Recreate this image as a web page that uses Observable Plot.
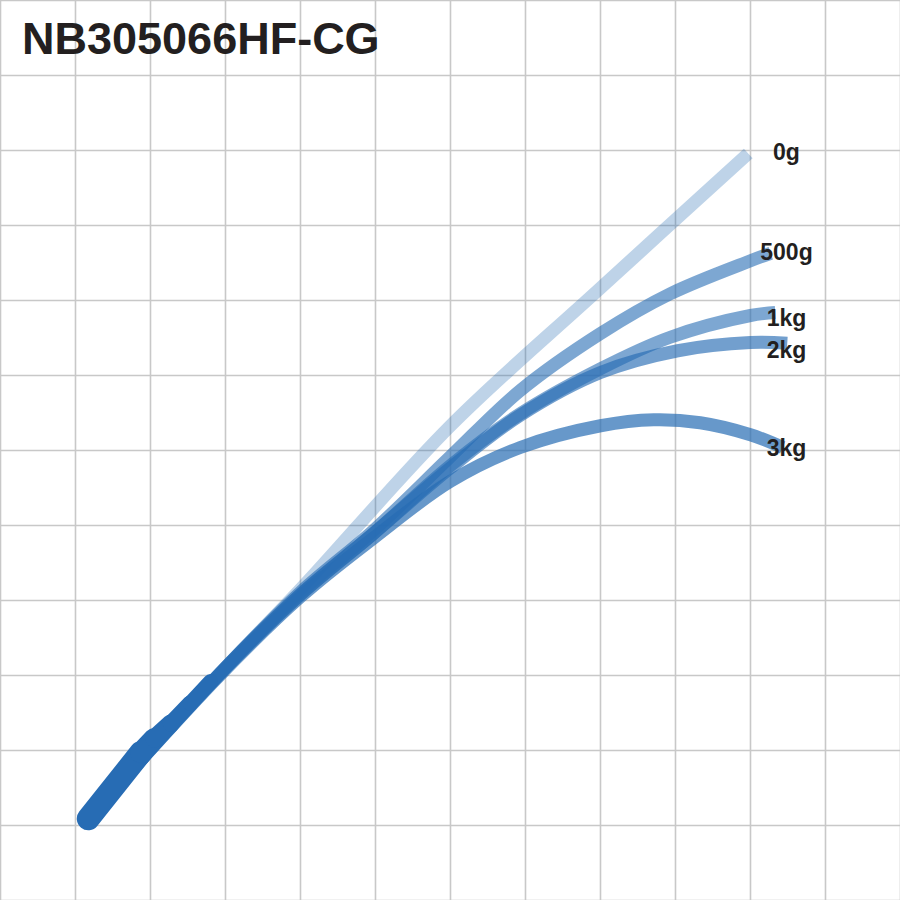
<!DOCTYPE html>
<html>
<head>
<meta charset="utf-8">
<script src="https://cdn.jsdelivr.net/npm/d3@7"></script>
<script src="https://cdn.jsdelivr.net/npm/@observablehq/plot@0.6"></script>
<style>
  html, body { margin: 0; padding: 0; background: #ffffff; }
  #wrap { position: relative; width: 900px; height: 900px; }
  #title {
    position: absolute; left: 22px; top: 16px; margin: 0;
    font-family: "Liberation Sans", Arial, Helvetica, sans-serif;
    font-weight: bold; font-size: 45px; line-height: 45px;
    color: #231f20; z-index: 2;
  }
</style>
</head>
<body>
<div id="wrap">
  <h1 id="title">NB305066HF-CG</h1>
</div>
<script>
// Title
const title = "NB305066HF-CG";

// Grid positions (one unit per grid cell)
const gridTicks = [0,1,2,3,4,5,6,7,8,9,10,11,12];

// Load series names
const seriesNames = ["0g", "500g", "1kg", "2kg", "3kg"];

// Rod curves (x, y in grid units) for each load
const x0g   = [1.17, 2.93, 4.00, 6.00, 7.96, 9.97];
const y0g   = [1.09, 3.03, 4.15, 6.33, 8.13, 9.96];

const x500g = [1.17, 2.93, 4.00, 4.97, 6.00, 6.93, 8.00, 8.93, 10.00, 10.27];
const y500g = [1.09, 3.03, 4.11, 4.93, 5.92, 6.80, 7.56, 8.09, 8.53, 8.63];

const x1kg  = [1.17, 2.93, 4.00, 4.97, 6.00, 6.93, 8.00, 8.93, 10.00, 10.33];
const y1kg  = [1.09, 3.03, 4.08, 4.89, 5.80, 6.49, 7.09, 7.51, 7.80, 7.84];

const x2kg  = [1.17, 2.93, 4.00, 4.97, 6.00, 6.93, 8.00, 9.03, 10.00, 10.49];
const y2kg  = [1.09, 3.03, 4.08, 4.89, 5.77, 6.47, 7.04, 7.33, 7.44, 7.43];

const x3kg  = [1.17, 2.93, 4.00, 4.97, 6.00, 6.93, 8.00, 8.71, 9.33, 10.00, 10.43];
const y3kg  = [1.09, 3.01, 4.05, 4.83, 5.59, 6.04, 6.33, 6.41, 6.37, 6.21, 6.04];

// Opacity per series
const seriesOpacity = [0.3, 0.6, 0.6, 0.65, 0.7];

// Handle (butt section): centre points and segment widths
const handleX = [1.17, 1.87, 2.05, 2.27, 2.53, 2.80];
const handleY = [1.09, 1.97, 2.16, 2.36, 2.63, 2.92];
const handleW = [23, 21, 18, 16, 15];

// Labels
const labelX = 10.48;
const labelY = [9.97, 8.64, 7.76, 7.33, 6.03];

const blue = "#276cb4";

const seriesX = [x0g, x500g, x1kg, x2kg, x3kg];
const seriesY = [y0g, y500g, y1kg, y2kg, y3kg];

const curveMarks = seriesNames.map((name, i) => {
  const pts = seriesX[i].map((x, j) => ({x, y: seriesY[i][j]}));
  return Plot.line(pts, {
    x: "x", y: "y", curve: "catmull-rom",
    stroke: blue, strokeOpacity: seriesOpacity[i],
    strokeWidth: 13, strokeLinecap: "butt", strokeLinejoin: "round"
  });
});

const handleSegs = handleW.map((w, i) => ({
  x1: handleX[i], y1: handleY[i], x2: handleX[i + 1], y2: handleY[i + 1], w,
  cap: i === 0 ? "round" : "butt"
}));

const labels = seriesNames.map((name, i) => ({name, x: labelX, y: labelY[i]}));

const chart = Plot.plot({
  width: 900,
  height: 900,
  margin: 0,
  style: {background: "#ffffff", overflow: "visible"},
  x: {domain: [0, 12], axis: null},
  y: {domain: [0, 12], axis: null},
  marks: [
    Plot.ruleX(gridTicks, {stroke: "#c8c8c8", strokeWidth: 1.6}),
    Plot.ruleY(gridTicks, {stroke: "#c8c8c8", strokeWidth: 1.6}),
    ...curveMarks,
    Plot.link(handleSegs.filter(d => d.cap === "round"), {
      x1: "x1", y1: "y1", x2: "x2", y2: "y2",
      strokeWidth: "w", stroke: blue, strokeLinecap: "round"
    }),
    Plot.link(handleSegs.filter(d => d.cap === "butt"), {
      x1: "x1", y1: "y1", x2: "x2", y2: "y2",
      strokeWidth: "w", stroke: blue, strokeLinecap: "round"
    }),
    Plot.text(labels, {
      x: "x", y: "y", text: "name",
      fontSize: 23, fontWeight: "bold", fill: "#231f20",
      fontFamily: "Liberation Sans, Arial, Helvetica, sans-serif",
      textAnchor: "middle"
    })
  ]
});

document.getElementById("title").textContent = title;
document.getElementById("wrap").appendChild(chart);
</script>
</body>
</html>
